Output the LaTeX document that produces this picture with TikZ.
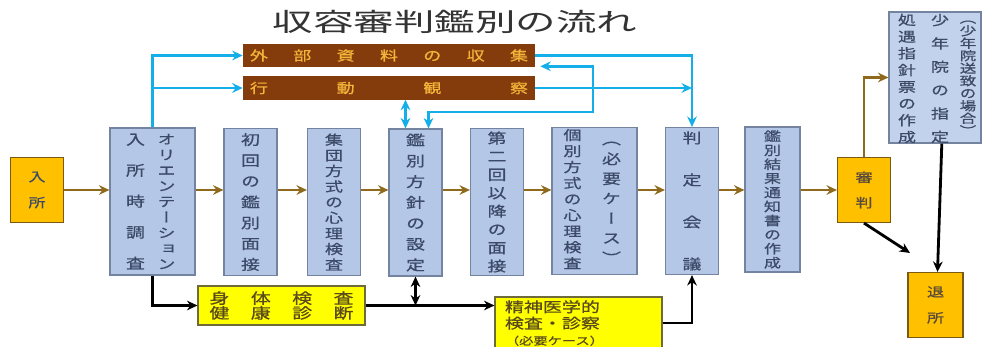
\documentclass[tikz,border=0pt]{standalone}
\usepackage{fontspec}
\setmainfont[FakeStretch=1.35,FakeBold=0.8]{Noto Sans CJK JP}
\newfontfamily\vjp[FakeStretch=1.35,FakeBold=0.8,RawFeature=+vert]{Noto Sans CJK JP}
\newfontfamily\titlejp[FakeStretch=1.6]{Noto Sans CJK JP}
\usetikzlibrary{arrows.meta, positioning, calc}
\definecolor{boxblue}{HTML}{B4C7E7}
\definecolor{boxedge}{HTML}{7383A0}
\definecolor{textblue}{HTML}{3C4A68}
\definecolor{gold}{HTML}{FFC000}
\definecolor{goldedge}{HTML}{7A5A10}
\definecolor{goldtext}{HTML}{5A4A3A}
\definecolor{barbrown}{HTML}{843C0C}
\definecolor{bartext}{HTML}{F4B43A}
\definecolor{linecyan}{HTML}{14AEE8}
\definecolor{flowbrown}{HTML}{8F6A1C}
\definecolor{noteyellow}{HTML}{FFFF00}
\definecolor{noteedge}{HTML}{6F6A3A}
\definecolor{notetext}{HTML}{5A4A1A}

\begin{document}
\begin{tikzpicture}[x=0.025cm, y=-0.025cm,
    >={Stealth[length=2.6mm,width=2.4mm]},
    procbox/.style={draw=boxedge, fill=boxblue, line width=0.8pt, minimum width=1.325cm, minimum height=3.675cm, inner sep=0pt, text=textblue, align=center},
    widebox/.style={procbox, minimum width=2.125cm},
    gatebox/.style={draw=goldedge, fill=gold, line width=0.8pt, minimum width=1.325cm, minimum height=1.625cm, inner sep=0pt, align=center, text=goldtext},
    barbox/.style={fill=barbrown, minimum width=7.3cm, minimum height=0.575cm, inner sep=0pt, text=bartext, font=\fontsize{9.5}{10}\selectfont},
    notebox/.style={draw=noteedge, fill=noteyellow, line width=0.8pt, minimum width=4.175cm, inner sep=0pt, text=notetext},
    vtext/.style 2 args={font=\vjp\fontsize{#1}{#2}\selectfont},
    vcol/.style={inner sep=0pt, align=center, text=textblue},
    flow/.style={->, line width=1.5pt, flowbrown},
    cyanline/.style={->, line width=1.8pt, linecyan},
    blackline/.style={->, line width=2pt, black},
]
\useasboundingbox (0,0) rectangle (984,347);

\node[font=\titlejp\fontsize{18}{18}\selectfont, text=black!80] (title) at (455,22) {収容審判鑑別の流れ};

% bars on top
\node[barbox] (collect) at (389,55.5) {\makebox[6.95cm]{外\hfill 部\hfill 資\hfill 料\hfill の\hfill 収\hfill 集}};
\node[barbox] (observe) at (389,88) {\makebox[6.95cm]{行\hfill 動\hfill 観\hfill 察}};

% main row
\node[gatebox, vtext={9}{18.5}, text=textblue] (entry) at (37,190) {入\\所};
\node[widebox] (orient) at (152.5,201.5) {};
\node[vcol, vtext={9.5}{11.1}] (orientA) at ($(orient)+(14,0)$) {オ\\リ\\エ\\ン\\テ\\ー\\シ\\ョ\\ン};
\node[vcol, vtext={10}{22}] (orientB) at ($(orient)+(-17,0)$) {入\\所\\時\\調\\査};
\node[procbox, vtext={10}{14.8}] (first) at (250.5,202) {初\\回\\の\\鑑\\別\\面\\接};
\node[procbox, vtext={9.5}{11.1}] (group) at (334,202) {集\\団\\方\\式\\の\\心\\理\\検\\査};
\node[procbox, vtext={10}{14.8}] (policy) at (415.5,202.5) {鑑\\別\\方\\針\\の\\設\\定};
\node[procbox, vtext={10}{13}] (second) at (497,202) {第\\二\\回\\以\\降\\の\\面\\接};
\node[widebox] (indiv) at (594.5,201) {};
\node[vcol, vtext={9.5}{11.4}] (indivA) at ($(indiv)+(-22,-2)$) {個\\別\\方\\式\\の\\心\\理\\検\\査};
\node[vcol, vtext={10}{14.1}] (indivB) at ($(indiv)+(17,1.5)$) {（\\必\\要\\ケ\\ー\\ス\\）};
\node[procbox, vtext={10}{29.9}] (conf) at (692,201) {判\\定\\会\\議};
\node[procbox, minimum width=1.375cm, minimum height=3.625cm, vtext={9}{10}] (report) at (772.5,199.5) {鑑\\別\\結\\果\\通\\知\\書\\の\\作\\成};
\node[gatebox, vtext={9}{18}] (hearing) at (864,190) {審\\判};

% right side
\node[procbox, fill=boxblue!80, minimum width=2.3cm, minimum height=3.275cm] (disp) at (935,77.5) {};
\node[vcol, vtext={9.5}{11.9}] (dispA) at ($(disp)+(-28,1)$) {処\\遇\\指\\針\\票\\の\\作\\成};
\node[vcol, vtext={9.5}{16.6}] (dispB) at ($(disp)+(5,1)$) {少\\年\\院\\の\\指\\定};
\node[vcol, vtext={8.7}{8.9}] (dispC) at ($(disp)+(33,0.5)$) {（\\少\\年\\院\\送\\致\\の\\場\\合\\）};
\node[gatebox, minimum width=1.375cm, vtext={9}{18.5}] (leave) at (935.5,305) {退\\所};

% checks below
\node[notebox, minimum height=0.975cm, align=center, font=\fontsize{10.5}{10.5}\selectfont] (body) at (281.5,305.5)
    {\makebox[3.6cm]{身\hfill 体\hfill 検\hfill 査}\\\makebox[3.6cm]{健\hfill 康\hfill 診\hfill 断}};
\node[notebox, minimum height=1.3cm, align=left, text width=3.675cm, inner xsep=0.25cm, font=\fontsize{10}{11.6}\selectfont] (psych) at (578.5,323)
    {精神医学的\\検査・診察\\{\fontsize{7.5}{9}\selectfont （必要ケース）}};

% flow
\draw[flow] (entry) -- (entry -| orient.west);
\foreach \a/\b in {orient/first, first/group, group/policy, policy/second, second/indiv, indiv/conf, conf/report}
    \draw[flow] (\a.east |- entry) -- (\b.west |- entry);
\draw[flow] (report.east |- entry) -- (hearing.west);
\draw[flow] (hearing.north) |- (disp.west);

% blue links
\draw[cyanline] (orient.north) |- (collect.west);
\draw[cyanline] (orient.north) |- (observe.west);
\draw[cyanline] (collect.east) -| (conf.north);
\draw[cyanline] (observe.east) -- (observe.east -| conf.north);
\coordinate (pin) at ($(policy.north)+(-10,0)$);
\draw[cyanline, <->] (pin) -- (pin |- observe.south);
\coordinate (ret) at ($(policy.north)+(13,0)$);
\coordinate (loopturn) at (593,112);
\draw[cyanline, <->] (ret) |- (loopturn) |- ($(collect.south east)+(5,-1)$);

% black links
\draw[blackline] (orient.south) |- (body.west);
\draw[blackline] (body.east) -- (body.east -| psych.west);
\coordinate (fork) at (policy.south |- body.east);
\draw[blackline, <->] (policy.south) -- (fork);
\draw[blackline] (psych.east) -| (conf.south);
\coordinate (out) at (910,253);
\draw[blackline] (hearing.south) -- (out);
\draw[blackline] ([xshift=0.17cm]disp.south) -- ([xshift=0.05cm]leave.north);
\end{tikzpicture}
\end{document}
